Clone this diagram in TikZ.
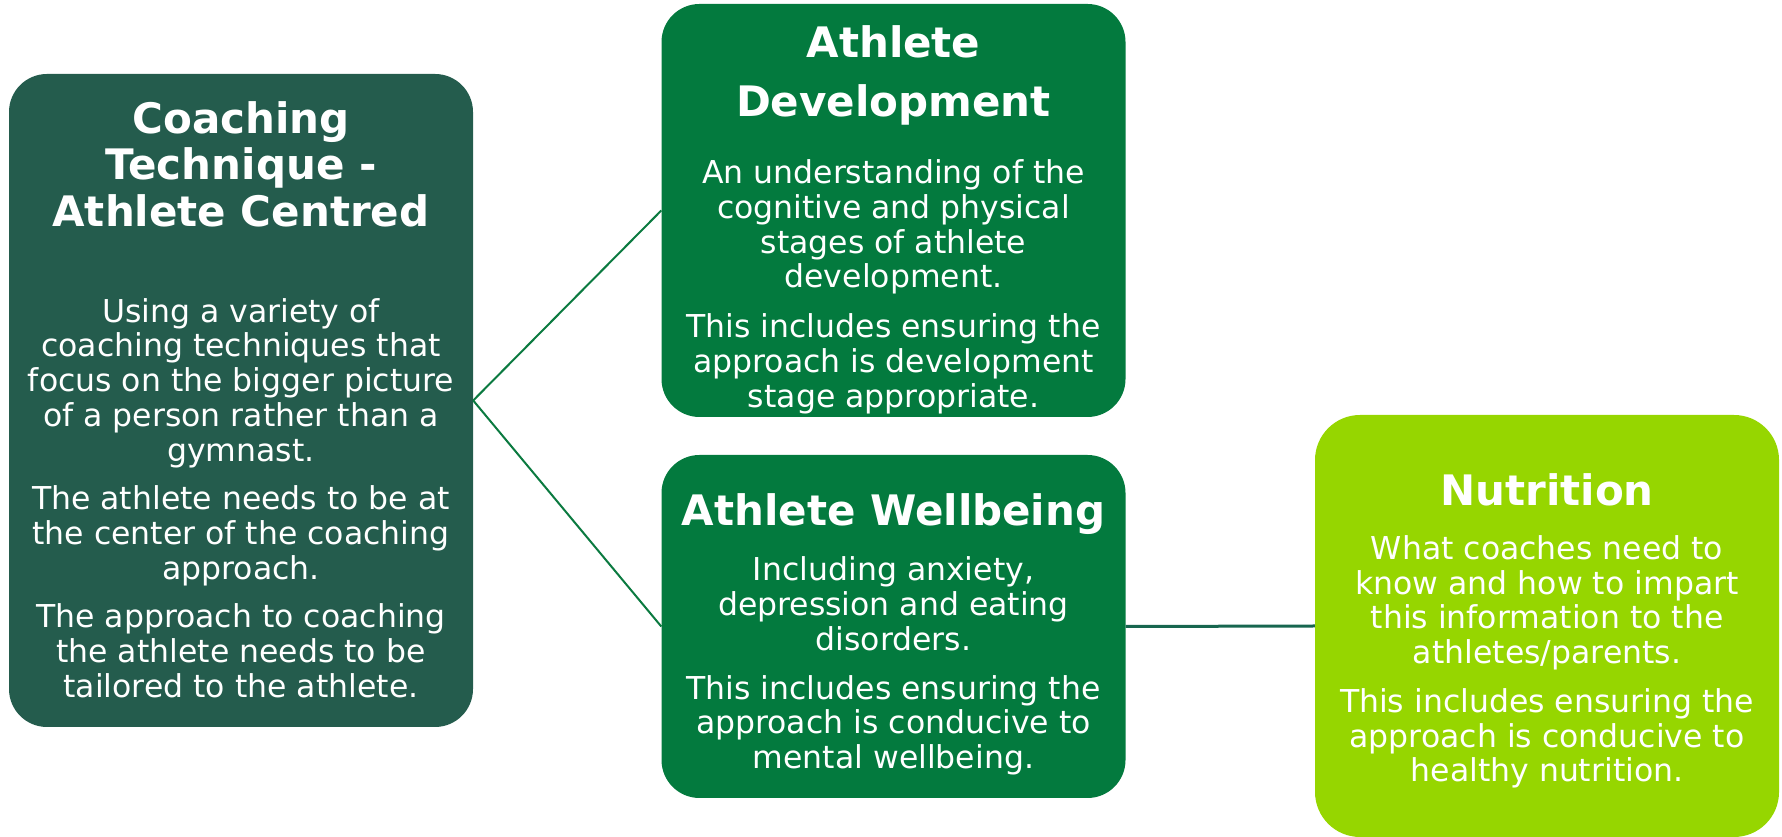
\documentclass[tikz,border=0pt]{standalone}
\usepackage{fontspec}
\setmainfont{DejaVu Sans}
\usetikzlibrary{positioning}

\definecolor{coachgreen}{HTML}{245C4D}
\definecolor{midgreen}{HTML}{037A3E}
\definecolor{limegreen}{HTML}{96D600}
\definecolor{linkgreen}{HTML}{0B7A40}
\definecolor{linkteal}{HTML}{17664F}

\newcommand{\headtxt}{\fontsize{42}{46.5}\selectfont\bfseries\spaceskip=\fontdimen2\font\xspaceskip=\spaceskip\lineskiplimit=-100pt}
\newcommand{\bodytxt}{\normalfont\fontsize{31.5}{34.7}\selectfont\spaceskip=\fontdimen2\font\xspaceskip=\spaceskip\lineskiplimit=-100pt}
% empty strut that pads the first line of a box
\newcommand{\toppad}[1]{\rule{0pt}{#1}}

\tikzset{
  topicbox/.style={rounded corners=38pt, text=white, align=flush center, text width=462pt, minimum width=464pt, inner sep=0pt},
  link/.style={draw=linkgreen, line width=2pt},
}

\begin{document}
\begin{tikzpicture}[x=1pt,y=1pt]
\useasboundingbox (0,0) rectangle (1782,837);

\node[topicbox, fill=coachgreen, minimum height=653pt] (coach) at (241,436.5) {\headtxt Coaching\\Technique -\\Athlete Centred\par\vspace{61.3pt}
  \bodytxt Using a variety of\\coaching techniques that\\focus on the bigger picture\\of a person rather than a\\gymnast.\par\vspace{14pt}
  The athlete needs to be at\\the center of the coaching\\approach.\par\vspace{14pt}
  The approach to coaching\\the athlete needs to be\\tailored to the athlete.\par\vspace{2pt}};

\node[topicbox, fill=midgreen, minimum height=413pt] (develop) at (893.5,626.5) {\headtxt\toppad{50pt}Athlete\par\vspace{13pt}Development\par\vspace{32.3pt}
  \bodytxt An understanding of the\\cognitive and physical\\stages of athlete\\development.\par\vspace{15.3pt}
  This includes ensuring the\\approach is development\\stage appropriate.\par};

\node[topicbox, fill=midgreen, minimum height=343pt] (wellbeing) at (893.5,210.5) {\headtxt\toppad{48pt}Athlete Wellbeing\par\vspace{20.3pt}
  \bodytxt Including anxiety,\\depression and eating\\disorders.\par\vspace{14pt}
  This includes ensuring the\\approach is conducive to\\mental wellbeing.\par};

\node[topicbox, fill=limegreen, minimum height=422pt, rounded corners=45pt] (nutrition) at (1547,211) {\headtxt\toppad{42pt}Nutrition\par\vspace{19.3pt}
  \bodytxt What coaches need to\\know and how to impart\\this information to the\\athletes/parents.\par\vspace{14.3pt}
  This includes ensuring the\\approach is conducive to\\healthy nutrition.\par};

% links
\draw[link] (coach.east) -- (develop.west);
\draw[link] (coach.east) -- (wellbeing.west);
\draw[link, draw=linkteal, line width=3pt] (wellbeing.east) -- (nutrition.west);
\end{tikzpicture}
\end{document}
